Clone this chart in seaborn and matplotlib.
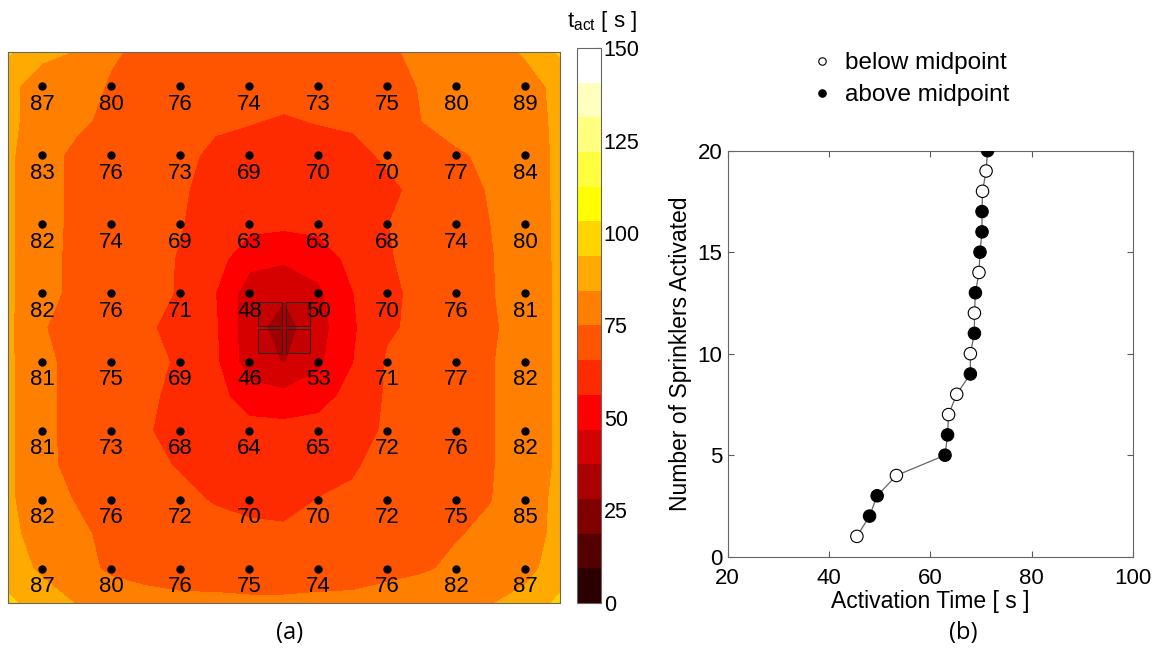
import numpy as np
import matplotlib
matplotlib.use('Agg')
import matplotlib.pyplot as plt
from matplotlib.patches import Rectangle
import pandas as pd
import seaborn as sns

# sprinkler activation times [s], rows from top to bottom
t_sprinkler = [
    [87, 80, 76, 74, 73, 75, 80, 89],
    [83, 76, 73, 69, 70, 70, 77, 84],
    [82, 74, 69, 63, 63, 68, 74, 80],
    [82, 76, 71, 48, 50, 70, 76, 81],
    [81, 75, 69, 46, 53, 71, 77, 82],
    [81, 73, 68, 64, 65, 72, 76, 82],
    [82, 76, 72, 70, 70, 72, 75, 85],
    [87, 80, 76, 75, 74, 76, 82, 87],
]

# ceiling activation time field (17 x 17 nodes, top row first)
t_field = [
    [95, 86, 84, 76, 73, 72, 71.5, 71, 70.5, 71, 72, 74, 76.5, 80, 82, 85, 95],
    [86, 81, 79, 74, 72, 71, 70, 69, 68, 69, 70, 72, 75.5, 79, 80, 82, 86],
    [86, 81, 76.5, 73, 71, 69.5, 66.5, 66, 65, 66, 66.5, 68, 75, 78, 80, 81, 86],
    [86, 78, 73, 72, 70, 67, 64.5, 63, 62, 62.5, 64, 66.5, 70, 74, 76.5, 80, 86],
    [86, 78, 73, 71.5, 69, 66.5, 63, 61, 60, 60.5, 62, 64.5, 67, 72.5, 75.5, 80, 86],
    [86, 78, 73, 71, 68.5, 66, 62, 59, 58, 59, 61.5, 65.5, 68, 71.5, 75, 79, 86],
    [86, 77.5, 73, 71, 68.5, 65, 60, 50, 48.5, 51, 59, 65, 68, 71, 74.5, 79, 86],
    [86, 78, 72.5, 71, 68, 65, 56.5, 42, 38.5, 45, 56, 64, 67.5, 71, 74.5, 78.5, 86],
    [86, 75.5, 71.5, 69, 66.5, 63.5, 57.5, 41, 34, 43, 55, 64.5, 67.5, 70.5, 74, 78, 86],
    [86, 77, 72, 70, 68, 64.5, 58, 42, 37, 45, 56, 66.5, 69.5, 72, 74.5, 78.5, 86],
    [86, 77, 72, 69.5, 67, 63.5, 60, 51, 49.5, 52, 60, 66.5, 69.5, 72, 74.5, 78.5, 86],
    [86, 77, 72, 69, 66, 64, 62, 60, 59.5, 60.5, 63, 66.5, 69.5, 72.5, 74.5, 78.5, 86],
    [86, 77, 72.5, 70, 67.5, 65, 63, 62, 61.5, 62.5, 65, 67.5, 70, 72.5, 74.5, 78.5, 86],
    [86, 78, 74.5, 72, 69.5, 67.5, 65, 63.5, 63, 65.8, 66.5, 69, 71.5, 73, 74.8, 79, 87],
    [87, 80, 76.5, 73, 71.5, 70, 68.5, 67.5, 67, 67.5, 69, 71, 73, 74.5, 76.5, 80, 87],
    [88, 83, 78, 73.5, 72, 71, 70.5, 70, 70, 70.5, 71.5, 73, 74, 76.5, 79, 82, 88],
    [96, 88, 84, 80, 78, 77, 77, 76.5, 76.5, 77, 77, 78, 80, 82, 84, 87, 96],
]

# activation sequence for panel (b)
act_time = [45.5, 48.0, 49.5, 53.3, 62.9, 63.4, 63.6, 65.2, 67.9, 67.9,
            68.7, 68.7, 68.9, 69.6, 69.8, 70.2, 70.2, 70.3, 71.0, 71.3]
n_act = [1, 2, 3, 4, 5, 6, 7, 8, 9, 10, 11, 12, 13, 14, 15, 16, 17, 18, 19, 20]
position = ['below', 'above', 'above', 'below', 'above', 'above', 'below', 'below', 'above', 'below',
            'above', 'below', 'above', 'below', 'above', 'above', 'above', 'below', 'below', 'above']

cbar_ticks = [0, 25, 50, 75, 100, 125, 150]

sns.set_style('white')
plt.rcParams['font.family'] = ['Liberation Sans', 'DejaVu Sans']
plt.rcParams['mathtext.fontset'] = 'custom'
plt.rcParams['mathtext.rm'] = 'Liberation Sans'
for key in ['text.color', 'axes.labelcolor', 'xtick.labelcolor', 'ytick.labelcolor']:
    plt.rcParams[key] = 'black'

# matlab style hot(16)
k = np.arange(1, 17)
hot16 = np.column_stack([np.clip(k / 6, 0, 1), np.clip((k - 6) / 6, 0, 1), np.clip((k - 12) / 4, 0, 1)])

fig = plt.figure(figsize=(11.56, 6.54), dpi=100)
ax_map = fig.add_axes([0.0069, 0.078, 0.4775, 0.8425])
cax = fig.add_axes([0.4991, 0.078, 0.0208, 0.8486])
ax_seq = fig.add_axes([0.6295, 0.1488, 0.3506, 0.6208])

# ---- (a) contour map
half = 12.2
grid = np.linspace(-half, half, 17)
Z = np.flipud(np.array(t_field))
cf = ax_map.contourf(grid, grid, Z, levels=np.linspace(0, 150, 17), colors=hot16)

sx = np.linspace(-10.675, 10.675, 8)
sy = sx[::-1]
for r, row in enumerate(t_sprinkler):
    for c, val in enumerate(row):
        ax_map.plot(sx[c], sy[r], 'o', color='black', ms=5)
        ax_map.text(sx[c], sy[r] - 0.8, str(val), ha='center', va='center', fontsize=16, color='black')

for x0, y0 in [(-1.145, 0.075), (0.075, 0.075), (-1.145, -1.145), (0.075, -1.145)]:
    ax_map.add_patch(Rectangle((x0, y0), 1.07, 1.07, facecolor=(0, 0, 0, 0.08),
                               edgecolor='0.15', lw=0.7))

ax_map.set_xlim(-half, half)
ax_map.set_ylim(-half, half)
ax_map.set_xticks([-10, -5, 0, 5, 10])
ax_map.set_yticks([-10, -5, 0, 5, 10])
ax_map.tick_params(direction='in', length=4, color='0.35', labelbottom=False, labelleft=False,
                   bottom=True, top=True, left=True, right=True)
for sp in ax_map.spines.values():
    sp.set_edgecolor('0.4')
    sp.set_linewidth(0.8)

cb = fig.colorbar(cf, cax=cax, ticks=cbar_ticks)
cb.outline.set_edgecolor('0.4')
cax.tick_params(labelsize=15.5, direction='in', length=4, pad=2, color='0.35')
fig.text(602 / 1156, 1 - 22 / 654, r'$\mathrm{t_{act}}$ [ s ]', ha='center', va='center', fontsize=16)

# ---- (b) activation sequence
df = pd.DataFrame({'time': act_time, 'count': n_act, 'pos': position})
df['label'] = df['pos'].map({'below': 'below midpoint', 'above': 'above midpoint'})
sns.lineplot(data=df, x='time', y='count', sort=False, estimator=None, color='0.4', lw=0.9, ax=ax_seq)
sns.scatterplot(data=df, x='time', y='count', hue='label', hue_order=['below midpoint', 'above midpoint'],
                palette={'below midpoint': 'white', 'above midpoint': 'black'}, edgecolor='black',
                linewidth=0.8, s=80, zorder=3, ax=ax_seq)

ax_seq.set_xlim(20, 100)
ax_seq.set_ylim(0, 20)
ax_seq.set_xticks([20, 40, 60, 80, 100])
ax_seq.set_yticks([0, 5, 10, 15, 20])
ax_seq.tick_params(axis='x', pad=8)
ax_seq.tick_params(axis='y', pad=4)
ax_seq.tick_params(direction='in', length=4, color='0.35', labelsize=16,
                   bottom=True, top=True, left=True, right=True)
for sp in ax_seq.spines.values():
    sp.set_edgecolor('0.4')
    sp.set_linewidth(0.8)
ax_seq.set_xlabel('Activation Time [ s ]', fontsize=16.5, labelpad=1)
ax_seq.set_ylabel('Number of Sprinklers Activated', fontsize=16.5, labelpad=4)

handles, labels = ax_seq.get_legend_handles_labels()
ax_seq.legend(handles, labels, loc='upper left', bbox_to_anchor=(812 / 1156, 1 - 52 / 654),
              bbox_transform=fig.transFigure, frameon=False, fontsize=17.5, markerscale=0.6,
              handlelength=0.8, handletextpad=0.55, labelspacing=0.42, borderpad=0, borderaxespad=0)

fig.text(290 / 1156, 1 - 633 / 654, '(a)', ha='center', va='center', fontsize=17, family=['Open Sans', 'DejaVu Sans'])
fig.text(963 / 1156, 1 - 633 / 654, '(b)', ha='center', va='center', fontsize=17, family=['Open Sans', 'DejaVu Sans'])

fig.savefig('out.png', dpi=100)
